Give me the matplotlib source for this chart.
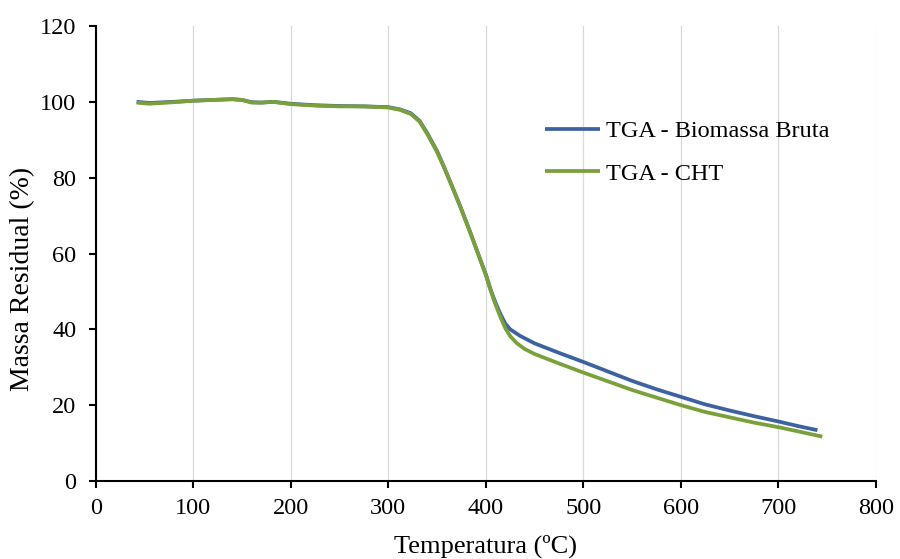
import matplotlib
matplotlib.use("Agg")
import matplotlib.pyplot as plt

plt.rcParams['font.family'] = ['Liberation Serif', 'DejaVu Serif']

# Temperature (°C) and residual mass (%) for the raw biomass
temp_bruta = [42, 55, 80, 100, 120, 140, 150, 160, 170, 182,
              200, 225, 250, 275, 300, 312, 323, 332, 340, 350,
              357, 365, 374, 383, 392, 400, 405, 410, 415, 420,
              425, 435, 450, 475, 500, 525, 550, 575, 600, 625,
              650, 675, 700, 720, 740]
massa_bruta = [100.0, 99.7, 100.0, 100.3, 100.5, 100.7, 100.5, 99.9, 99.8, 100.0,
               99.5, 99.1, 98.9, 98.8, 98.6, 98.0, 97.0, 95.0, 91.7, 87.0,
               82.9, 78.0, 72.3, 66.3, 60.0, 54.5, 50.4, 47.0, 44.0, 41.5,
               40.0, 38.3, 36.3, 33.8, 31.4, 28.9, 26.4, 24.2, 22.2, 20.2,
               18.6, 17.1, 15.7, 14.5, 13.4]

# Temperature (°C) and residual mass (%) for the CHT sample
temp_cht = [42, 55, 80, 100, 120, 140, 150, 160, 170, 182,
            200, 225, 250, 275, 300, 312, 323, 332, 340, 350,
            357, 365, 374, 383, 392, 400, 405, 410, 415, 420,
            425, 432, 440, 450, 475, 500, 525, 550, 575, 600,
            625, 650, 675, 700, 720, 745]
massa_cht = [99.8, 99.5, 99.9, 100.3, 100.5, 100.7, 100.5, 99.8, 99.8, 100.0,
             99.4, 99.0, 98.8, 98.8, 98.5, 97.9, 96.8, 94.8, 91.5, 86.8,
             82.8, 77.9, 72.2, 66.2, 60.0, 54.3, 50.2, 46.5, 43.2, 40.3,
             38.2, 36.3, 34.8, 33.5, 31.0, 28.6, 26.3, 24.0, 22.0, 20.0,
             18.2, 16.8, 15.4, 14.2, 13.1, 11.7]

x_ticks = [0, 100, 200, 300, 400, 500, 600, 700, 800]
y_ticks = [0, 20, 40, 60, 80, 100, 120]

fig = plt.figure(figsize=(9, 5.59), dpi=100)
ax = fig.add_axes([0.1063, 0.1395, 0.8670, 0.8140])

ax.plot(temp_bruta, massa_bruta, color='#3d62a0', lw=2.7,
        solid_capstyle='butt', label='TGA - Biomassa Bruta', zorder=3)
ax.plot(temp_cht, massa_cht, color='#7aa03c', lw=2.7,
        solid_capstyle='butt', label='TGA - CHT', zorder=4)

ax.set_xlim(0, 800)
ax.set_ylim(0, 120)
ax.set_xticks(x_ticks)
ax.set_yticks(y_ticks)

ax.xaxis.grid(True, color='#d9d9d9', lw=0.9)
ax.yaxis.grid(False)
ax.set_axisbelow(True)

for side in ('top', 'right'):
    ax.spines[side].set_visible(False)
for side in ('left', 'bottom'):
    ax.spines[side].set_linewidth(1.5)
    ax.spines[side].set_color('black')

ax.tick_params(axis='both', direction='out', length=5, width=1.5,
               labelsize=17.5, colors='black')
ax.tick_params(axis='x', pad=7)
ax.tick_params(axis='y', pad=9)

ax.set_xlabel('Temperatura (ºC)', fontsize=19)
ax.set_ylabel('Massa Residual (%)', fontsize=20)
ax.xaxis.set_label_coords(0.5, -0.118)
ax.yaxis.set_label_coords(-0.077, 0.445)

ax.legend(loc='upper left', bbox_to_anchor=(545 / 900, 1 - 120 / 559),
          bbox_transform=fig.transFigure, frameon=False,
          fontsize=17.5, handlelength=2.25, handletextpad=0.25,
          labelspacing=0.85, borderaxespad=0, borderpad=0)

fig.savefig('out.png', dpi=100)
